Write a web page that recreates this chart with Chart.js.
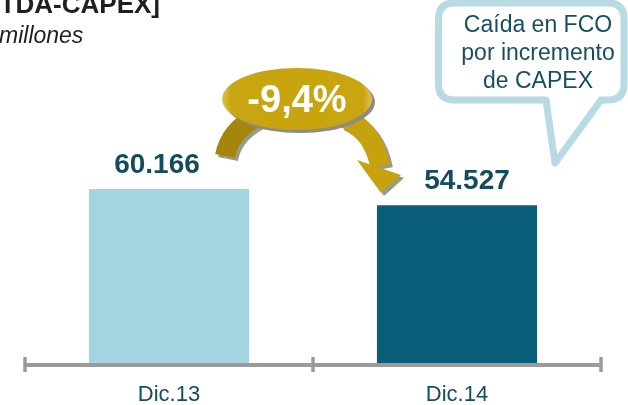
<!DOCTYPE html>
<html>
<head>
<meta charset="utf-8">
<script src="https://cdn.jsdelivr.net/npm/chart.js@4"></script>
<style>
  body { margin: 0; background: #fff; }
  canvas { display: block; }
</style>
</head>
<body>
<canvas id="fcoChart" width="628" height="405"></canvas>
<script>
// data
const categories = ['Dic.13', 'Dic.14'];
const fcoValues = [60166, 54527];
const barColors = ['#a3d4e1', '#0a5e7a'];
const changeLabel = '-9,4%';
const titleText = 'TDA-CAPEX]';
const unitText = 'millones';
const calloutLines = ['Caída en FCO', 'por incremento', 'de CAPEX'];

const FONT = "'Liberation Sans', Arial, sans-serif";
const TEXT_DARK = '#144b5d';

// 60166 -> "60.166"
function fmtEs(n) {
    return String(n).replace(/\B(?=(\d{3})+(?!\d))/g, '.');
}

// gray axis line with tick marks at category borders
const axisPlugin = {
    id: 'axisLine',
    afterDatasetsDraw(chart) {
        const ctx = chart.ctx;
        const x = chart.scales.x;
        const y = chart.chartArea.bottom + 2;
        ctx.save();
        ctx.strokeStyle = '#9b9b9b';
        ctx.lineWidth = 4;
        ctx.beginPath();
        ctx.moveTo(x.left, y);
        ctx.lineTo(x.right, y);
        ctx.stroke();
        ctx.lineWidth = 3.5;
        const step = x.width / categories.length;
        for (let i = 0; i <= categories.length; i++) {
            const tx = x.left + i * step;
            ctx.beginPath();
            ctx.moveTo(tx, y - 8);
            ctx.lineTo(tx, y + 7);
            ctx.stroke();
        }
        ctx.restore();
    }
};

// value labels above the bars
const valuePlugin = {
    id: 'valueLabels',
    afterDatasetsDraw(chart) {
        const ctx = chart.ctx;
        const meta = chart.getDatasetMeta(0);
        const shift = [-12, 10];
        ctx.save();
        ctx.font = 'bold 28px ' + FONT;
        ctx.fillStyle = TEXT_DARK;
        ctx.textAlign = 'center';
        ctx.textBaseline = 'alphabetic';
        meta.data.forEach((bar, i) => {
            ctx.fillText(fmtEs(fcoValues[i]), bar.x + shift[i], bar.y - 16);
        });
        ctx.restore();
    }
};

// title, callout bubble and the -9,4% arrow badge
const decorPlugin = {
    id: 'decor',
    afterDraw(chart) {
        const ctx = chart.ctx;
        ctx.save();

        // title (cut off at top like the slide)
        ctx.fillStyle = '#1f1f1f';
        ctx.font = 'bold 26px ' + FONT;
        ctx.textAlign = 'right';
        ctx.fillText(titleText, 160, 13);
        ctx.font = 'italic 23px ' + FONT;
        ctx.textAlign = 'left';
        ctx.fillText(unitText, -1, 43);

        // callout bubble
        ctx.lineWidth = 7;
        ctx.strokeStyle = '#b8dae3';
        ctx.fillStyle = '#fff';
        ctx.lineJoin = 'round';
        const l = 438.5, t = 3, r = 624, b = 100, rad = 16;
        ctx.beginPath();
        ctx.moveTo(l + rad, t);
        ctx.lineTo(r - rad, t);
        ctx.quadraticCurveTo(r, t, r, t + rad);
        ctx.lineTo(r, b - rad);
        ctx.quadraticCurveTo(r, b, r - rad, b);
        ctx.lineTo(601, b);
        ctx.lineTo(555, 163);
        ctx.lineTo(546, b);
        ctx.lineTo(l + rad, b);
        ctx.quadraticCurveTo(l, b, l, b - rad);
        ctx.lineTo(l, t + rad);
        ctx.quadraticCurveTo(l, t, l + rad, t);
        ctx.closePath();
        ctx.fill();
        ctx.stroke();

        ctx.fillStyle = '#174f60';
        ctx.font = '23px ' + FONT;
        ctx.textAlign = 'center';
        calloutLines.forEach((line, i) => {
            ctx.fillText(line, 538, 32 + i * 28);
        });

        // curved arrows (with soft gray shadow)
        const drawArrows = (dx, dy, leftCol, rightCol) => {
            ctx.lineCap = 'butt';
            ctx.lineWidth = 20;
            ctx.strokeStyle = leftCol;
            ctx.beginPath();
            ctx.moveTo(225 + dx, 156 + dy);
            ctx.quadraticCurveTo(230 + dx, 130 + dy, 258 + dx, 116 + dy);
            ctx.stroke();

            ctx.strokeStyle = rightCol;
            ctx.beginPath();
            ctx.moveTo(345 + dx, 118 + dy);
            ctx.quadraticCurveTo(374 + dx, 132 + dy, 380 + dx, 166 + dy);
            ctx.stroke();

            ctx.fillStyle = rightCol;
            ctx.beginPath();
            ctx.moveTo(357 + dx, 160 + dy);
            ctx.lineTo(401 + dx, 175 + dy);
            ctx.lineTo(381 + dx, 193 + dy);
            ctx.closePath();
            ctx.fill();
        };
        drawArrows(3, 3, '#9a9a88', '#9a9a88');
        drawArrows(0, 0, '#a5850c', '#c6a20e');

        // ellipse badge
        ctx.fillStyle = '#8e8c7c';
        ctx.beginPath();
        ctx.ellipse(300, 102, 75, 31, 0, 0, Math.PI * 2);
        ctx.fill();
        const grad = ctx.createRadialGradient(297, 99, 20, 297, 99, 78);
        grad.addColorStop(0, '#c8a40e');
        grad.addColorStop(0.8, '#c9a512');
        grad.addColorStop(1, '#e3cf6a');
        ctx.fillStyle = grad;
        ctx.beginPath();
        ctx.ellipse(297, 99, 75, 31, 0, 0, Math.PI * 2);
        ctx.fill();

        ctx.fillStyle = '#ffffff';
        ctx.font = 'bold 38px ' + FONT;
        ctx.textAlign = 'center';
        ctx.textBaseline = 'middle';
        ctx.fillText(changeLabel, 297, 102);

        ctx.restore();
    }
};

new Chart(document.getElementById('fcoChart'), {
    type: 'bar',
    data: {
        labels: categories,
        datasets: [{
            data: fcoValues,
            backgroundColor: barColors,
            borderWidth: 0,
            categoryPercentage: 1,
            barPercentage: 0.556
        }]
    },
    options: {
        responsive: false,
        devicePixelRatio: 1,
        animation: false,
        layout: { padding: { left: 25, right: 27, top: 16, bottom: 0 } },
        plugins: {
            legend: { display: false },
            tooltip: { enabled: false }
        },
        scales: {
            x: {
                grid: { display: false },
                border: { display: false },
                ticks: {
                    color: TEXT_DARK,
                    font: { family: FONT, size: 22 },
                    padding: 11
                },
                afterFit: (axis) => { axis.height = 42; }
            },
            y: {
                display: false,
                min: 0,
                max: 120000
            }
        }
    },
    plugins: [axisPlugin, valuePlugin, decorPlugin]
});
</script>
</body>
</html>
